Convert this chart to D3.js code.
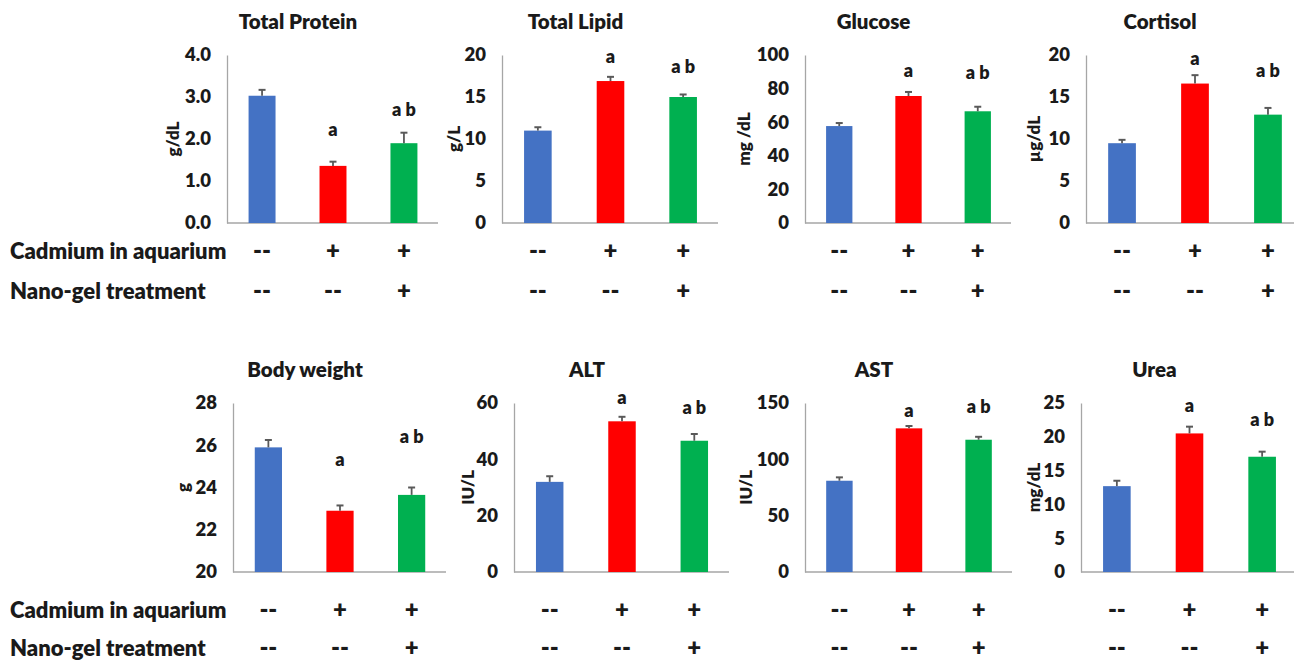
<!DOCTYPE html>
<html>
<head>
<meta charset="utf-8">
<script src="https://cdn.jsdelivr.net/npm/d3@7"></script>
<style>
  html, body { margin: 0; padding: 0; background: #ffffff; }
  svg text { font-family: Lato, "Open Sans", sans-serif; font-weight: 800; fill: #1a1a1a; }
</style>
</head>
<body>
<svg id="chart" width="1294" height="664"></svg>
<script>
// ---------------- data ----------------
const titles = ["Total Protein", "Total Lipid", "Glucose", "Cortisol", "Body weight", "ALT", "AST", "Urea"];
const units = ["g/dL", "g/L", "mg /dL", "µg/dL", "g", "IU/L", "IU/L", "mg/dL"];
const groups = ["Control", "Cadmium", "Cadmium + Nano-gel"];
const controlMean = [3.03, 11.0, 57.7, 9.5, 25.9, 32.0, 81.0, 12.7];
const cadmiumMean = [1.36, 16.9, 75.6, 16.6, 22.9, 53.5, 127.5, 20.5];
const nanogelMean = [1.90, 15.0, 66.5, 12.9, 23.65, 46.6, 117.4, 17.05];
const controlErr = [0.14, 0.4, 1.8, 0.4, 0.35, 2.0, 3.0, 0.8];
const cadmiumErr = [0.10, 0.5, 2.4, 1.0, 0.25, 1.6, 2.1, 1.0];
const nanogelErr = [0.25, 0.3, 2.7, 0.8, 0.35, 2.4, 2.6, 0.75];
const yMin = [0, 0, 0, 0, 20, 0, 0, 0];
const yMax = [4, 20, 100, 20, 28, 60, 150, 25];
const yStep = [1, 5, 20, 5, 2, 20, 50, 5];
const tickFormats = [".1f", "d", "d", "d", "d", "d", "d", "d"];
const groupLetters = ["", "a", "a b"];
const cadmiumRow = ["--", "+", "+"];
const nanogelRow = ["--", "--", "+"];
const rowLabels = ["Cadmium in aquarium", "Nano-gel treatment"];

// ---------------- layout ----------------
const panelX = [228, 503, 806, 1087, 234, 515, 806, 1082];
const panelW = [210, 215, 205, 216, 212, 214, 206, 215];
const rowTop = [55, 403];
const rowBase = [223, 572];
const unitOffset = [55, 49, 62, 53, 51, 47, 60, 48];
// letter heights in data units (annotation placement)
const letterPosCad = [2.21, 19.8, 90.5, 19.6, 25.3, 62, 142.9, 24.6];
const letterPosNano = [2.69, 18.6, 89.3, 18.1, 26.4, 58.5, 146.4, 22.6];
const markerY = [[251, 291], [610, 648]];
const colors = ["#4472C4", "#FF0000", "#00B050"];

const svg = d3.select("#chart");

for (let i = 0; i < titles.length; i++) {
  const row = i < 4 ? 0 : 1;
  const x0 = panelX[i], w = panelW[i];
  const top = rowTop[row], base = rowBase[row];
  const means = [controlMean[i], cadmiumMean[i], nanogelMean[i]];
  const errs = [controlErr[i], cadmiumErr[i], nanogelErr[i]];

  const x = d3.scaleBand().domain(groups).range([x0, x0 + w]).paddingInner(0.62).paddingOuter(0.29);
  const y = d3.scaleLinear().domain([yMin[i], yMax[i]]).range([base, top]);

  const g = svg.append("g");

  // y axis
  const ticks = d3.range(yMin[i], yMax[i] + yStep[i] / 2, yStep[i]);
  const yAxis = d3.axisLeft(y).tickValues(ticks).tickSize(0).tickPadding(16).tickFormat(d3.format(tickFormats[i]));
  const ya = g.append("g").attr("transform", `translate(${x0 - 1},0)`).call(yAxis);
  ya.select(".domain").attr("stroke", "#A6A6A6").attr("stroke-width", 1.3);
  ya.selectAll("text").style("font-size", "18.5px").style("font-family", "Lato, 'Open Sans', sans-serif").style("font-weight", 800).attr("fill", "#1a1a1a");

  // x axis line
  const xAxis = d3.axisBottom(x).tickSize(0).tickFormat("");
  const xa = g.append("g").attr("transform", `translate(0,${base})`).call(xAxis);
  xa.select(".domain").attr("stroke", "#A6A6A6").attr("stroke-width", 1.3).attr("d", `M${x0 - 1},0H${x0 + w}`);

  // bars
  g.selectAll("rect.bar").data(groups).enter().append("rect")
    .attr("class", "bar")
    .attr("x", d => x(d))
    .attr("width", x.bandwidth())
    .attr("y", (d, k) => y(means[k]))
    .attr("height", (d, k) => base - y(means[k]))
    .attr("fill", (d, k) => colors[k]);

  // error bars
  const eb = g.selectAll("g.err").data(groups).enter().append("g").attr("class", "err");
  eb.append("line")
    .attr("x1", d => x(d) + x.bandwidth() / 2).attr("x2", d => x(d) + x.bandwidth() / 2)
    .attr("y1", (d, k) => y(means[k])).attr("y2", (d, k) => y(means[k] + errs[k]))
    .attr("stroke", "#595959").attr("stroke-width", 1.8);
  eb.append("line")
    .attr("x1", d => x(d) + x.bandwidth() / 2 - 3.5).attr("x2", d => x(d) + x.bandwidth() / 2 + 3.5)
    .attr("y1", (d, k) => y(means[k] + errs[k])).attr("y2", (d, k) => y(means[k] + errs[k]))
    .attr("stroke", "#595959").attr("stroke-width", 2);

  // significance letters
  const letterPos = [null, letterPosCad[i], letterPosNano[i]];
  groups.forEach((gr, k) => {
    if (!groupLetters[k]) return;
    g.append("text")
      .attr("x", x(gr) + x.bandwidth() / 2)
      .attr("y", y(letterPos[k]))
      .attr("dy", "0.35em")
      .attr("text-anchor", "middle")
      .style("font-size", "18px")
      .text(groupLetters[k]);
  });

  // title
  g.append("text")
    .attr("x", x0 + w / 2 - 35)
    .attr("y", top - 33)
    .attr("dy", "0.35em")
    .attr("text-anchor", "middle")
    .style("font-size", "20.5px")
    .text(titles[i]);

  // unit label
  g.append("text")
    .attr("transform", `translate(${x0 - unitOffset[i]},${(top + base) / 2}) rotate(-90)`)
    .attr("dy", "0.35em")
    .attr("text-anchor", "middle")
    .style("font-size", "17px")
    .text(units[i]);

  // treatment markers
  const rowsMarks = [cadmiumRow, nanogelRow];
  rowsMarks.forEach((marks, r) => {
    groups.forEach((gr, k) => {
      g.append("text")
        .attr("x", x(gr) + x.bandwidth() / 2)
        .attr("y", markerY[row][r])
        .attr("dy", "0.35em")
        .attr("text-anchor", "middle")
        .style("font-size", "24px")
        .text(marks[k]);
    });
  });
}

// row labels
[0, 1].forEach(row => {
  rowLabels.forEach((lab, r) => {
    svg.append("text")
      .attr("x", 10)
      .attr("y", markerY[row][r])
      .attr("dy", "0.35em")
      .style("font-size", "22px")
      .text(lab);
  });
});
</script>
</body>
</html>
